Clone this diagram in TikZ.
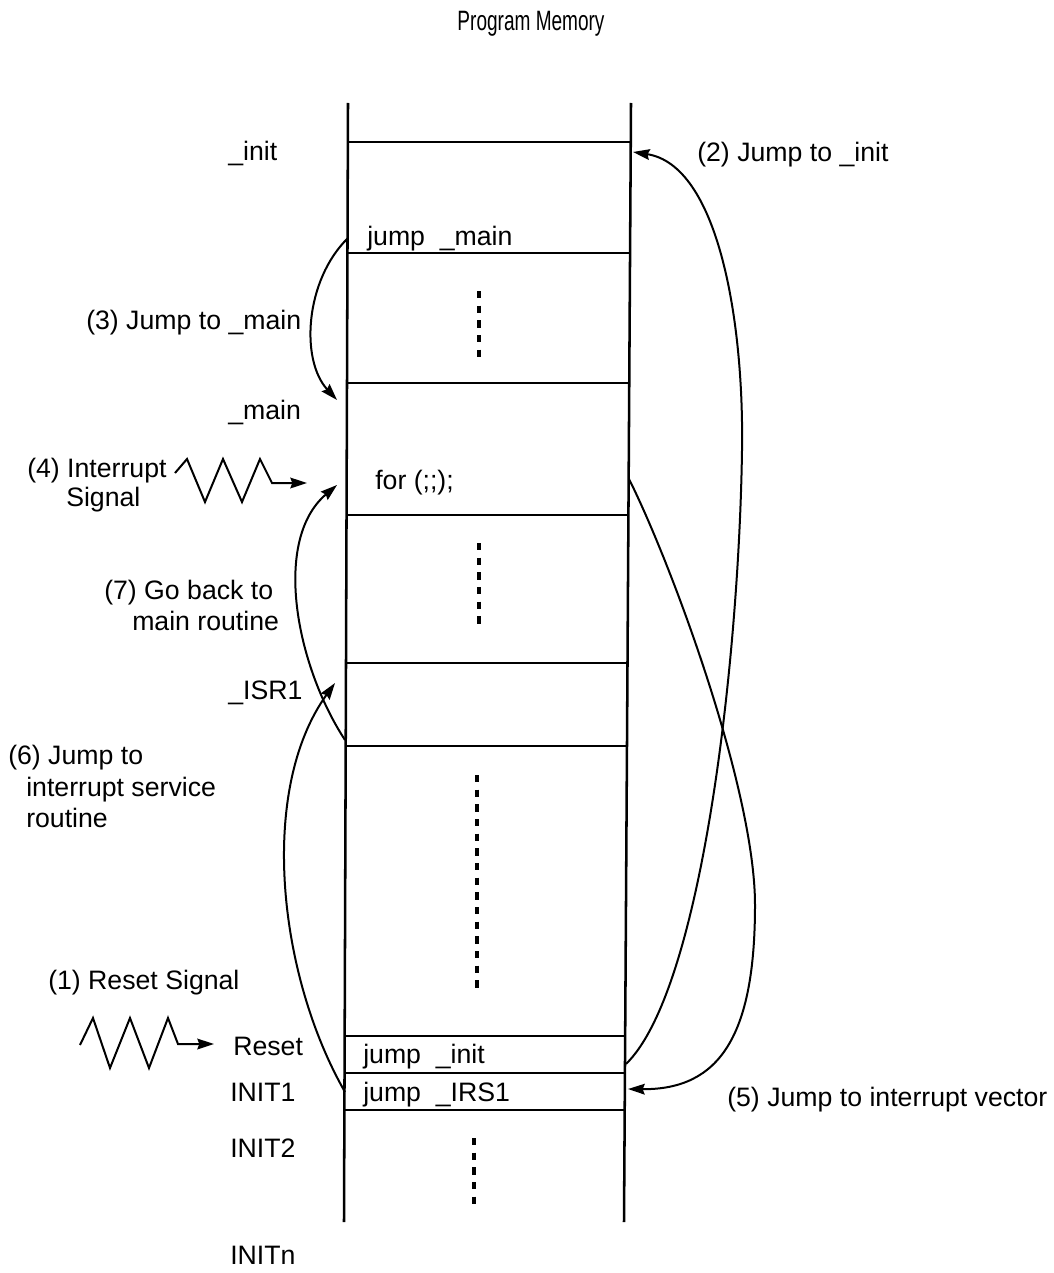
\documentclass[tikz,border=0pt]{standalone}
\usepackage{fontspec}
\setmainfont{Liberation Sans}
\usetikzlibrary{arrows.meta}
\begin{document}
\begin{tikzpicture}[x=0.75pt,y=-0.75pt,
  lbl/.style={inner sep=0pt, anchor=base west, font=\fontsize{20pt}{24pt}\selectfont},
  ttl/.style={inner sep=0pt, anchor=base, font=\fontsize{21pt}{24pt}\selectfont},
  col/.style={line width=1.9pt},
  cellline/.style={line width=1.6pt},
  conn/.style={line width=1.5pt, -{Stealth[length=12.5pt,width=8pt,inset=1.5pt]}},
  dotsline/.style={line width=3.5pt, dash pattern=on 5.5pt off 5.5pt}]
\useasboundingbox (0,0) rectangle (1053,1273);

% title
\node[ttl] (title) at (531,31) {\scalebox{0.68}[1]{Program Memory}};

% memory column
\coordinate (TL) at (348,103); \coordinate (BL) at (344,1222);
\coordinate (TR) at (631,103); \coordinate (BR) at (624,1222);
\draw[col] (TL) -- (BL);
\draw[col] (TR) -- (BR);
\draw[cellline] (347.9,142) -- (630.8,142);
\draw[cellline] (347.5,253) -- (630.1,253);
\draw[cellline] (347.0,383) -- (629.2,383);
\draw[cellline] (346.5,515) -- (628.4,515);
\draw[cellline] (346.0,663) -- (627.5,663);
\draw[cellline] (345.7,746) -- (627.0,746);
\draw[cellline] (344.7,1036) -- (625.2,1036);
\draw[cellline] (344.5,1073) -- (624.9,1073);
\draw[cellline] (344.4,1110) -- (624.7,1110);

% vertical dots
\draw[dotsline] (479,291) -- (479,358);
\draw[dotsline] (479,543) -- (479,625);
\draw[dotsline] (477,775) -- (477,991);
\draw[dotsline] (474,1138) -- (474,1207);

% contents of cells
\node[lbl] (jmain) at (367,245) {jump\ \ \_main};
\node[lbl] (forl) at (375,489) {for (;;);};
\node[lbl] (jinit) at (363,1063) {jump\ \ \_init};
\node[lbl] (jisr) at (363,1101) {jump\ \ \_IRS1};

% address labels
\node[lbl] (linit) at (228,161) {\_init};
\node[lbl] (lmain) at (228,419) {\_main};
\node[lbl] (lisr) at (228,699) {\_ISR1};
\node[lbl] (lreset) at (233,1055) {Reset};
\node[lbl] (linit1) at (230,1101) {INIT1};
\node[lbl] (linit2) at (230,1157) {INIT2};
\node[lbl] (linitn) at (230,1264) {INITn};

% step labels
\node[lbl] (s1) at (48,989) {(1) Reset Signal};
\node[lbl] (s2) at (697,162) {(2) Jump to \_init};
\node[lbl] (s3) at (86,329) {(3) Jump to \_main};
\node[lbl] (s4a) at (27,477) {(4) Interrupt};
\node[lbl] (s4b) at (66,506) {Signal};
\node[lbl] (s5) at (727,1106) {(5) Jump to interrupt vector};
\node[lbl] (s6a) at (8,764) {(6) Jump to};
\node[lbl] (s6b) at (26,796) {interrupt service};
\node[lbl] (s6c) at (26,827) {routine};
\node[lbl] (s7a) at (104,599) {(7) Go back to};
\node[lbl] (s7b) at (132,630) {main routine};

% signals
\coordinate (intsig) at (175,473); \coordinate (intend) at (307,483);
\draw[conn] (intsig) -- (187,459) -- (205,502) -- (223,459) -- (242,502) -- (260,459) -- (272,483) -- (intend);
\coordinate (rstsig) at (80,1045); \coordinate (rstend) at (214,1044);
\draw[conn] (rstsig) -- (93,1018) -- (110,1068) -- (130,1018) -- (149,1068) -- (168,1018) -- (178,1044) -- (rstend);

% jump arrows
\coordinate (a2s) at (626,1064); \coordinate (a2e) at (633,152);
\draw[conn] (a2s) .. controls (702,990) and (739,660) .. (742,450)
  .. controls (744,320) and (718,165) .. (a2e);
\coordinate (a3s) at (348,238); \coordinate (a3e) at (337,400);
\draw[conn] (a3s) .. controls (305,280) and (300,360) .. (a3e);
\coordinate (a5s) at (629,479); \coordinate (a5e) at (628,1089);
\draw[conn] (a5s) .. controls (672,565) and (755,790) .. (755,905)
  .. controls (755,1035) and (720,1090) .. (a5e);
\coordinate (a6s) at (345,1092); \coordinate (a6e) at (335,683);
\draw[conn] (a6s) .. controls (278,975) and (258,790) .. (a6e);
\coordinate (a7s) at (345,740); \coordinate (a7e) at (337,485);
\draw[conn] (a7s) .. controls (296,665) and (272,540) .. (a7e);
\end{tikzpicture}
\end{document}
